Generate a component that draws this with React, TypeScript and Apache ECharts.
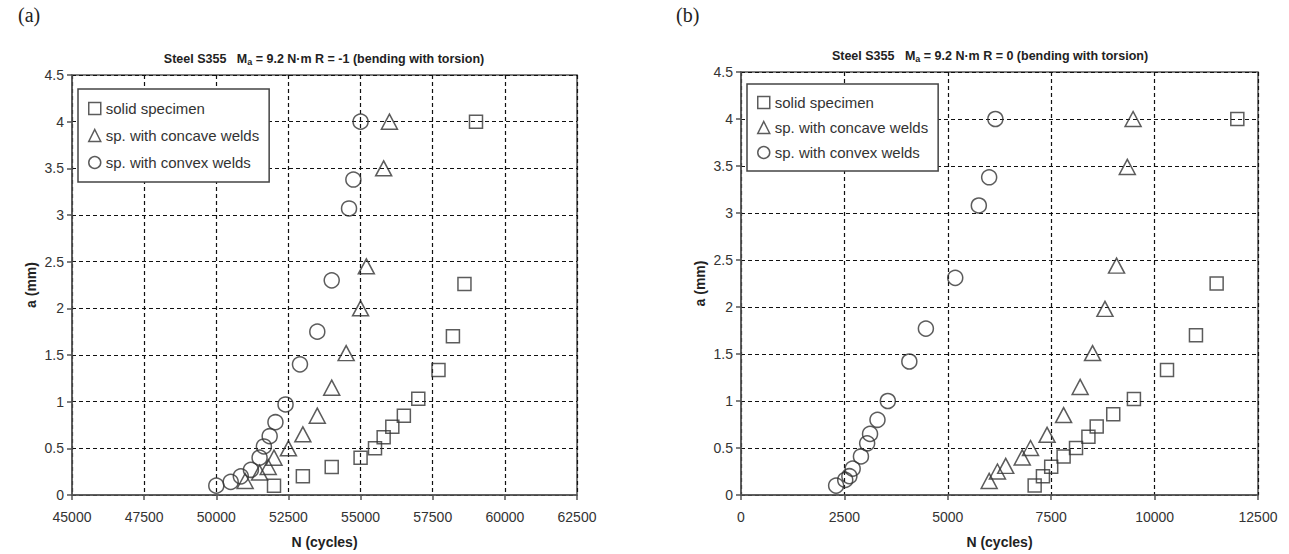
import React, { useEffect, useRef } from "react";
import * as echarts from "echarts";

const seriesNames = ["solid specimen", "sp. with concave welds", "sp. with convex welds"];

// Chart (a): R = -1
const solidA = [
  [52000, 0.1], [53000, 0.2], [54000, 0.3], [55000, 0.4], [55500, 0.5], [55800, 0.62],
  [56100, 0.73], [56500, 0.85], [57000, 1.03], [57700, 1.34], [58200, 1.7], [58600, 2.26], [59000, 4.0],
];
const concaveA = [
  [51000, 0.15], [51500, 0.24], [51800, 0.3], [52000, 0.4], [52500, 0.5], [53000, 0.65],
  [53500, 0.85], [54000, 1.15], [54500, 1.52], [55000, 2.0], [55200, 2.45], [55800, 3.5], [56000, 4.0],
];
const convexA = [
  [50000, 0.1], [50500, 0.14], [50850, 0.2], [51200, 0.27], [51500, 0.4], [51650, 0.52],
  [51850, 0.63], [52050, 0.78], [52400, 0.97], [52900, 1.4], [53500, 1.75], [54000, 2.3],
  [54600, 3.07], [54750, 3.38], [55000, 4.0],
];

// Chart (b): R = 0
const solidB = [
  [7100, 0.1], [7300, 0.2], [7500, 0.3], [7800, 0.41], [8100, 0.5], [8400, 0.62], [8600, 0.73],
  [9000, 0.86], [9500, 1.02], [10300, 1.33], [11000, 1.7], [11500, 2.25], [12000, 4.0],
];
const concaveB = [
  [6000, 0.15], [6200, 0.25], [6400, 0.31], [6800, 0.4], [7000, 0.5], [7400, 0.64], [7800, 0.85],
  [8200, 1.15], [8500, 1.51], [8800, 1.98], [9080, 2.44], [9340, 3.49], [9480, 4.0],
];
const convexB = [
  [2300, 0.1], [2520, 0.16], [2620, 0.2], [2700, 0.28], [2900, 0.41], [3050, 0.55], [3120, 0.65],
  [3300, 0.8], [3550, 1.0], [4070, 1.42], [4470, 1.77], [5180, 2.31], [5750, 3.08], [6000, 3.38],
  [6150, 4.0],
];

const xRangeA = { min: 45000, max: 62500, interval: 2500 };
const xRangeB = { min: 0, max: 12500, interval: 2500 };
const yRange = { min: 0, max: 4.5, interval: 0.5 };

const titleA = "Steel S355   M{sub|a} = 9.2 N·m R = -1 (bending with torsion)";
const titleB = "Steel S355   M{sub|a} = 9.2 N·m R = 0 (bending with torsion)";

const FONT = "'Liberation Sans', Arial, sans-serif";
const INK = "#333";

export default function App() {
  const ref = useRef<HTMLDivElement>(null);

  useEffect(() => {
    if (!ref.current) return;
    const chart = echarts.init(ref.current, null, { renderer: "svg" });

    const gridLine = { show: true, lineStyle: { color: "#111", type: [4, 3], width: 1.2 } };
    const axisLine = { show: true, onZero: false, lineStyle: { color: "#555", width: 1.5 } };
    const axisTick = { show: true, length: 5, lineStyle: { color: "#555", width: 1.5 } };
    const labelStyle = { color: INK, fontFamily: FONT, fontSize: 14, formatter: (v: number) => String(v) };
    const nameStyle = { color: "#222", fontFamily: FONT, fontSize: 14, fontWeight: "bold" as const };

    const makeX = (r: any, gridIndex: number) => ({
      type: "value",
      gridIndex,
      ...r,
      axisLine,
      axisTick,
      splitLine: gridLine,
      axisLabel: { ...labelStyle, margin: 15 },
      name: "N (cycles)",
      nameLocation: "middle",
      nameGap: 40,
      nameTextStyle: nameStyle,
    });
    const makeY = (gridIndex: number) => ({
      type: "value",
      gridIndex,
      ...yRange,
      axisLine,
      axisTick,
      splitLine: gridLine,
      axisLabel: { ...labelStyle, margin: 8 },
      name: "a (mm)",
      nameLocation: "middle",
      nameGap: 34,
      nameTextStyle: nameStyle,
    });

    const symStyle = { color: "rgba(0,0,0,0)", borderColor: INK, borderWidth: 1.5 };
    const mk = (name: string, data: number[][], idx: number, symbol: string, size: number | number[]) => ({
      type: "scatter",
      name,
      data,
      xAxisIndex: idx,
      yAxisIndex: idx,
      symbol,
      symbolSize: size,
      itemStyle: symStyle,
      emphasis: { disabled: true },
    });

    const legendBase = {
      orient: "vertical",
      data: seriesNames,
      backgroundColor: "#fff",
      borderColor: "#444",
      borderWidth: 1.5,
      borderRadius: 0,
      padding: [12, 10, 12, 10],
      itemGap: 12,
      itemWidth: 12,
      itemHeight: 12,
      itemStyle: symStyle,
      textStyle: { color: INK, fontFamily: FONT, fontSize: 15 },
      selectedMode: false,
    };

    const titleStyle = (x: number, y: number, text: string) => ({
      type: "text",
      x,
      y,
      style: {
        text,
        fill: "#222",
        font: `bold 12.5px ${FONT}`,
        textAlign: "center",
        textVerticalAlign: "middle",
        rich: {
          sub: { fontSize: 9, fontWeight: "bold", fontFamily: FONT, fill: "#222", verticalAlign: "bottom", padding: [6, 0, 0, 0] },
        },
      },
    });

    const serif = "20px 'Liberation Serif', 'DejaVu Serif', serif";

    chart.setOption({
      animation: false,
      backgroundColor: "#fff",
      grid: [
        { left: 72, top: 75, width: 505, height: 421, show: true, borderColor: "#555", borderWidth: 1.5, backgroundColor: "transparent" },
        { left: 741, top: 72, width: 517, height: 430, show: true, borderColor: "#555", borderWidth: 1.5, backgroundColor: "transparent" },
      ],
      xAxis: [makeX(xRangeA, 0), makeX(xRangeB, 1)],
      yAxis: [makeY(0), makeY(1)],
      legend: [
        { ...legendBase, left: 78, top: 89 },
        { ...legendBase, left: 747, top: 84, itemGap: 10, padding: [11, 10, 11, 10] },
      ],
      series: [
        mk(seriesNames[0], solidA, 0, "rect", 13),
        mk(seriesNames[1], concaveA, 0, "triangle", [16, 15]),
        mk(seriesNames[2], convexA, 0, "circle", 15),
        mk(seriesNames[0], solidB, 1, "rect", 13),
        mk(seriesNames[1], concaveB, 1, "triangle", [16, 15]),
        mk(seriesNames[2], convexB, 1, "circle", 15),
      ],
      graphic: [
        { type: "text", x: 18, y: 5, style: { text: "(a)", fill: "#222", font: serif } },
        { type: "text", x: 676, y: 5, style: { text: "(b)", fill: "#222", font: serif } },
        titleStyle(324, 59, titleA),
        titleStyle(990, 56, titleB),
      ],
    });

    return () => chart.dispose();
  }, []);

  return <div ref={ref} style={{ position: "fixed", left: 0, top: 0, width: 1289, height: 554 }} />;
}
